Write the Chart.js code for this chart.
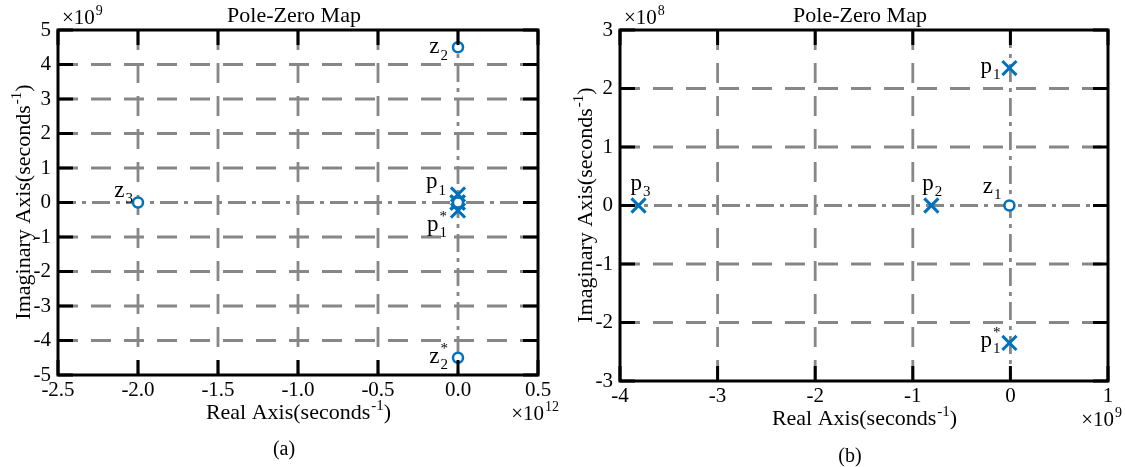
<!DOCTYPE html>
<html>
<head>
<meta charset="utf-8">
<script src="https://cdn.jsdelivr.net/npm/chart.js@4/dist/chart.umd.min.js"></script>
<style>
  html, body { margin: 0; padding: 0; background: #fff; }
  #wrap { display: flex; width: 1125px; height: 467px; }
  canvas { display: block; }
</style>
</head>
<body>
<div id="wrap">
  <canvas id="pzFull" width="562" height="467"></canvas>
  <canvas id="pzZoom" width="563" height="467"></canvas>
</div>
<script>
// ── (a) full map: real part in 1e12 s^-1, imaginary part in 1e9 s^-1 ──
const aZeroRe = [0, 0, -2.0, -0.00001];
const aZeroIm = [4.5, -4.5, 0, 0];
const aZeroNames = [["z", "2", ""], ["z", "2", "*"], ["z", "3", ""], null];
const aPoleRe = [-0.00001, -0.00001, -0.00081, -0.00381];
const aPoleIm = [0.235, -0.235, 0, 0];
const aPoleNames = [["p", "1", ""], ["p", "1", "*"], null, null];
const aXTicks = [-2.5, -2.0, -1.5, -1.0, -0.5, 0.0, 0.5];
const aYTicks = [-5, -4, -3, -2, -1, 0, 1, 2, 3, 4, 5];

// ── (b) zoom near the origin: real part in 1e9 s^-1, imaginary in 1e8 s^-1 ──
const bZeroRe = [-0.01];
const bZeroIm = [0];
const bZeroNames = [["z", "1", ""]];
const bPoleRe = [-0.01, -0.01, -0.81, -3.81];
const bPoleIm = [2.35, -2.35, 0, 0];
const bPoleNames = [["p", "1", ""], ["p", "1", "*"], ["p", "2", ""], ["p", "3", ""]];
const bXTicks = [-4, -3, -2, -1, 0, 1];
const bYTicks = [-3, -2, -1, 0, 1, 2, 3];

// label placement: [dx, dy, align] relative to the marker
const aZeroLabelPos = [[-11, 6, "right"], [-11, 5, "right"], [-6, -6, "right"], null];
const aPoleLabelPos = [[-13, -6, "right"], [-12, 20, "right"], null, null];
const bZeroLabelPos = [[-9, -13, "right"]];
const bPoleLabelPos = [[-10, 5, "right"], [-10, 4, "right"], [-9, -16, "left"], [-8, -16, "left"]];

const SERIF = "'Liberation Serif', 'Times New Roman', serif";
const BLUE = "#0072BD";
const GRID = "#878787";
const DASH = [20, 13];
const DASH_DOT = [18, 6, 4, 6];

function font(size) { return `${size}px ${SERIF}`; }

// text with optional sub/superscript pieces: [{t}, {sub, sup}]
function drawRich(ctx, parts, x, y, size, align) {
  const small = Math.round(size * 0.66);
  const widths = parts.map((p) => {
    if (p.t !== undefined) { ctx.font = font(size); return ctx.measureText(p.t).width; }
    ctx.font = font(small);
    return Math.max(p.sub ? ctx.measureText(p.sub).width : 0, p.sup ? ctx.measureText(p.sup).width : 0);
  });
  const total = widths.reduce((s, w) => s + w, 0);
  let cx = align === "center" ? x - total / 2 : align === "right" ? x - total : x;
  ctx.textAlign = "left";
  ctx.textBaseline = "alphabetic";
  parts.forEach((p, i) => {
    if (p.t !== undefined) {
      ctx.font = font(size);
      ctx.fillText(p.t, cx, y);
    } else {
      ctx.font = font(small);
      if (p.sub) ctx.fillText(p.sub, cx + 1, y + size * 0.28);
      if (p.sup) ctx.fillText(p.sup, cx + 1, y - size * 0.42);
    }
    cx += widths[i] + (p.t === undefined ? 1 : 0);
  });
}

function nameParts(n) {
  return [{ t: n[0] }, { sub: n[1], sup: n[2] }];
}

const pzFrame = {
  id: "pzFrame",
  beforeDatasetsDraw(chart) {
    const { ctx, chartArea: a, scales: { x, y } } = chart;
    ctx.save();
    ctx.beginPath();
    ctx.rect(a.left, a.top, a.width, a.height);
    ctx.clip();
    ctx.strokeStyle = GRID;
    ctx.lineWidth = 2.8;
    x.ticks.forEach((t) => {
      if (t.value <= x.min || t.value >= x.max) return;
      const px = x.getPixelForValue(t.value);
      ctx.setLineDash(t.value === 0 ? DASH_DOT : DASH);
      ctx.beginPath(); ctx.moveTo(px, a.top); ctx.lineTo(px, a.bottom); ctx.stroke();
    });
    y.ticks.forEach((t) => {
      if (t.value <= y.min || t.value >= y.max) return;
      const py = y.getPixelForValue(t.value);
      ctx.setLineDash(t.value === 0 ? DASH_DOT : DASH);
      ctx.beginPath(); ctx.moveTo(a.left, py); ctx.lineTo(a.right, py); ctx.stroke();
    });
    ctx.restore();
  },
  afterDatasetsDraw(chart) {
    const { ctx, chartArea: a, scales: { x, y } } = chart;
    const len = 15;
    ctx.save();
    ctx.strokeStyle = "#000";
    ctx.lineWidth = 3;
    ctx.setLineDash([]);
    ctx.beginPath();
    x.ticks.forEach((t) => {
      const px = x.getPixelForValue(t.value);
      ctx.moveTo(px, a.bottom); ctx.lineTo(px, a.bottom - len);
      ctx.moveTo(px, a.top); ctx.lineTo(px, a.top + len);
    });
    y.ticks.forEach((t) => {
      const py = y.getPixelForValue(t.value);
      ctx.moveTo(a.left, py); ctx.lineTo(a.left + len, py);
      ctx.moveTo(a.right, py); ctx.lineTo(a.right - len, py);
    });
    ctx.stroke();
    ctx.strokeRect(a.left, a.top, a.width, a.height);
    ctx.restore();
  },
  afterDraw(chart) {
    const o = chart.options.plugins.pzFrame;
    const { ctx, chartArea: a, scales: { x, y } } = chart;
    const midX = (a.left + a.right) / 2;
    ctx.save();
    ctx.fillStyle = "#000";
    drawRich(ctx, [{ t: "Pole-Zero Map" }], midX - 4, 22, 22, "center");
    drawRich(ctx, [{ t: "\u00d710" }, { sup: o.yExp }], a.left + 4, 24, 21, "left");
    drawRich(ctx, [{ t: "\u00d710" }, { sup: o.xExp }], chart.width - 4, a.bottom + 45, 21, "right");
    drawRich(ctx, [{ t: "Real Axis(seconds" }, { sup: "-1" }, { t: ")" }], midX, a.bottom + 44, 22, "center");
    ctx.save();
    ctx.translate(22, (a.top + a.bottom) / 2);
    ctx.rotate(-Math.PI / 2);
    drawRich(ctx, [{ t: "Imaginary Axis(seconds" }, { sup: "-1" }, { t: ")" }], 0, 8, 22, "center");
    ctx.restore();
    drawRich(ctx, [{ t: o.caption }], midX - 14, o.captionY, 20, "center");

    // marker names
    o.labels.forEach((set) => {
      set.names.forEach((n, i) => {
        if (!n) return;
        const p = set.pos[i];
        const px = x.getPixelForValue(set.re[i]);
        const py = y.getPixelForValue(set.im[i]);
        drawRich(ctx, nameParts(n), px + p[0], py + p[1], 23, p[2]);
      });
    });
    ctx.restore();
  },
};

function pzChart(id, cfg) {
  const zeros = cfg.zeroRe.map((v, i) => ({ x: v, y: cfg.zeroIm[i] }));
  const poles = cfg.poleRe.map((v, i) => ({ x: v, y: cfg.poleIm[i] }));
  const tickFont = { family: SERIF, size: 21 };
  return new Chart(document.getElementById(id), {
    type: "scatter",
    data: {
      datasets: [
        {
          label: "zeros",
          data: zeros,
          pointStyle: "circle",
          pointRadius: 5,
          borderWidth: 2.5,
          borderColor: BLUE,
          backgroundColor: "#fff",
        },
        {
          label: "poles",
          data: poles,
          pointStyle: "crossRot",
          pointRadius: 10,
          borderWidth: 3,
          borderColor: BLUE,
          backgroundColor: BLUE,
        },
      ],
    },
    options: {
      responsive: false,
      animation: false,
      events: [],
      layout: { padding: { left: 0, right: cfg.padRight, top: 30, bottom: 0 } },
      scales: {
        x: {
          type: "linear",
          min: cfg.xTicks[0],
          max: cfg.xTicks[cfg.xTicks.length - 1],
          afterBuildTicks: (s) => { s.ticks = cfg.xTicks.map((v) => ({ value: v })); },
          afterFit: (s) => { s.height = cfg.xHeight; },
          grid: { display: false, drawTicks: false },
          border: { display: false },
          ticks: {
            color: "#000",
            font: tickFont,
            padding: 3,
            maxRotation: 0,
            autoSkip: false,
            callback: cfg.xFmt,
          },
        },
        y: {
          type: "linear",
          min: cfg.yTicks[0],
          max: cfg.yTicks[cfg.yTicks.length - 1],
          afterBuildTicks: (s) => { s.ticks = cfg.yTicks.map((v) => ({ value: v })); },
          afterFit: (s) => { s.width = cfg.yWidth; },
          grid: { display: false, drawTicks: false },
          border: { display: false },
          ticks: {
            color: "#000",
            font: tickFont,
            padding: 7,
            autoSkip: false,
            callback: (v) => String(v),
          },
        },
      },
      plugins: {
        legend: { display: false },
        tooltip: { enabled: false },
        pzFrame: {
          xExp: cfg.xExp,
          yExp: cfg.yExp,
          caption: cfg.caption,
          captionY: cfg.captionY,
          labels: [
            { re: cfg.zeroRe, im: cfg.zeroIm, names: cfg.zeroNames, pos: cfg.zeroPos },
            { re: cfg.poleRe, im: cfg.poleIm, names: cfg.poleNames, pos: cfg.polePos },
          ],
        },
      },
    },
    plugins: [pzFrame],
  });
}

pzChart("pzFull", {
  zeroRe: aZeroRe, zeroIm: aZeroIm, zeroNames: aZeroNames, zeroPos: aZeroLabelPos,
  poleRe: aPoleRe, poleIm: aPoleIm, poleNames: aPoleNames, polePos: aPoleLabelPos,
  xTicks: aXTicks, yTicks: aYTicks,
  xFmt: (v) => Number(v).toFixed(1),
  xExp: "12", yExp: "9",
  yWidth: 58, xHeight: 92, padRight: 24,
  caption: "(a)", captionY: 455,
});

pzChart("pzZoom", {
  zeroRe: bZeroRe, zeroIm: bZeroIm, zeroNames: bZeroNames, zeroPos: bZeroLabelPos,
  poleRe: bPoleRe, poleIm: bPoleIm, poleNames: bPoleNames, polePos: bPoleLabelPos,
  xTicks: bXTicks, yTicks: bYTicks,
  xFmt: (v) => String(v),
  xExp: "9", yExp: "8",
  yWidth: 58, xHeight: 86, padRight: 17,
  caption: "(b)", captionY: 462,
});
</script>
</body>
</html>
